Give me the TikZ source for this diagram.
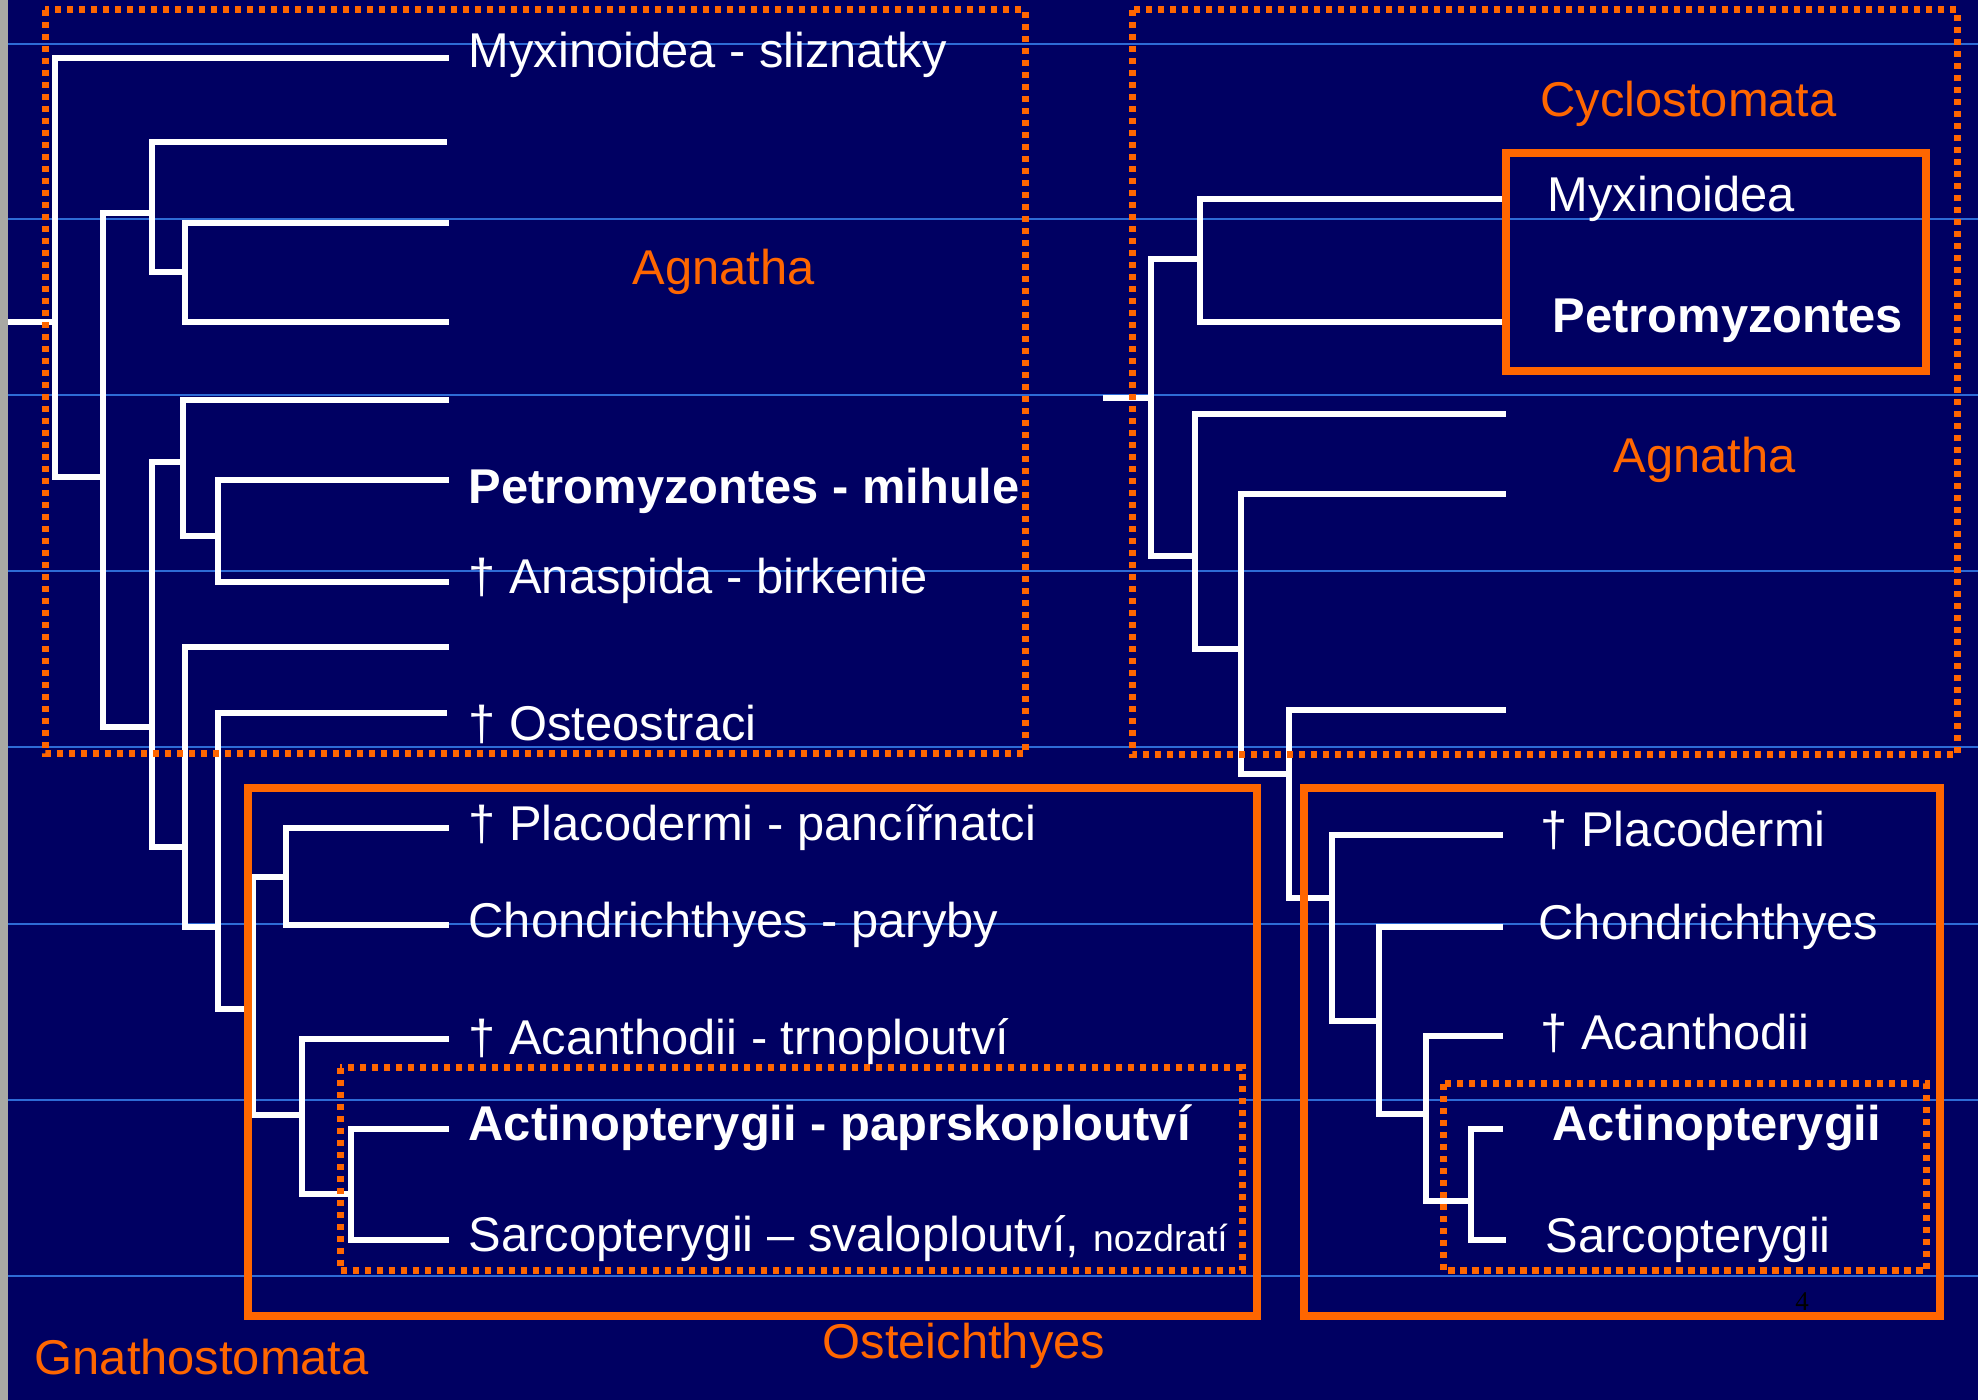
\documentclass[tikz,border=0pt]{standalone}
\usepackage{fontspec}
\usepackage{xcolor}
\setmainfont{Liberation Sans}
\newfontfamily\pagefont{Liberation Serif}
\definecolor{slidebg}{HTML}{000062}
\definecolor{slideorange}{HTML}{FF6600}
\definecolor{gridblue}{HTML}{2E6BD6}
\definecolor{stripgray}{HTML}{A8A8A4}
\newcommand{\taxonfont}{\fontsize{13.9}{16}\selectfont}

\begin{document}
\begin{tikzpicture}[x=0.1mm, y=-0.1mm,
  branch/.style={draw=white, line width=0.65mm},
  groupbox/.style={draw=slideorange, line width=0.8mm},
  groupdots/.style={draw=slideorange, line width=0.7mm, dash pattern=on 0.65mm off 0.55mm},
  gridline/.style={draw=gridblue, line width=0.12mm},
  taxon/.style={anchor=base west, inner sep=0pt, text=white, font=\taxonfont},
  taxonbold/.style={taxon, font=\taxonfont\bfseries},
  clade/.style={anchor=base west, inner sep=0pt, text=slideorange, font=\taxonfont}]
\useasboundingbox (0,0) rectangle (1978,1400);
\fill[slidebg] (0,0) rectangle (1978,1400);
\fill[stripgray] (0,0) rectangle (8,1400);
\foreach \y in {44,219,395,571,747,924,1100,1276}
  \draw[gridline] (8,\y) -- (1978,\y);

\coordinate (rootL) at (8,322);
\coordinate (nL0) at (55,322);
\coordinate (nLa) at (103,477);
\coordinate (nLb) at (152,213);
\coordinate (nLc) at (185,272);
\coordinate (nLd) at (152,727);
\coordinate (nLe) at (183,462);
\coordinate (nLf) at (218,536);
\coordinate (nLg) at (185,847);
\coordinate (nLh) at (218,927);
\coordinate (nLi) at (253,1009);
\coordinate (nLj) at (286,877);
\coordinate (nLk) at (302,1115);
\coordinate (nLl) at (351,1194);
\coordinate (lL1) at (449,58);
\coordinate (lL2) at (447,142);
\coordinate (lL3) at (449,223);
\coordinate (lL4) at (449,322);
\coordinate (lL5) at (449,400);
\coordinate (lL6) at (449,480);
\coordinate (lL7) at (449,582);
\coordinate (lL8) at (449,647);
\coordinate (lL9) at (447,713);
\coordinate (lL10) at (449,828);
\coordinate (lL11) at (449,925);
\coordinate (lL12) at (449,1039);
\coordinate (lL13) at (449,1129);
\coordinate (lL14) at (449,1240);

\draw[branch] (rootL) -- (nL0);
\draw[branch] (nL0) |- (lL1) (nL0) |- (nLa);
\draw[branch] (nLa) |- (nLb) (nLa) |- (nLd);
\draw[branch] (nLb) |- (lL2) (nLb) |- (nLc);
\draw[branch] (nLc) |- (lL3) (nLc) |- (lL4);
\draw[branch] (nLd) |- (nLe) (nLd) |- (nLg);
\draw[branch] (nLe) |- (lL5) (nLe) |- (nLf);
\draw[branch] (nLf) |- (lL6) (nLf) |- (lL7);
\draw[branch] (nLg) |- (lL8) (nLg) |- (nLh);
\draw[branch] (nLh) |- (lL9) (nLh) |- (nLi);
\draw[branch] (nLi) |- (nLj) (nLi) |- (nLk);
\draw[branch] (nLj) |- (lL10) (nLj) |- (lL11);
\draw[branch] (nLk) |- (lL12) (nLk) |- (nLl);
\draw[branch] (nLl) |- (lL13) (nLl) |- (lL14);

\coordinate (rootR) at (1103,398);
\coordinate (nR0) at (1151,398);
\coordinate (nRcy) at (1200,259);
\coordinate (nRa) at (1195,556);
\coordinate (nRb) at (1241,649);
\coordinate (nRc) at (1289,774);
\coordinate (nRd) at (1332,898);
\coordinate (nRe) at (1379,1021);
\coordinate (nRf) at (1426,1114);
\coordinate (nRg) at (1471,1201);
\coordinate (lR1) at (1503,199);
\coordinate (lR2) at (1503,322);
\coordinate (lR3) at (1506,414);
\coordinate (lR4) at (1506,494);
\coordinate (lR5) at (1506,710);
\coordinate (lR6) at (1503,835);
\coordinate (lR7) at (1503,927);
\coordinate (lR8) at (1503,1036);
\coordinate (lR9) at (1503,1129);
\coordinate (lR10) at (1506,1240);

\draw[branch] (rootR) -- (nR0);
\draw[branch] (nR0) |- (nRcy) (nR0) |- (nRa);
\draw[branch] (nRcy) |- (lR1) (nRcy) |- (lR2);
\draw[branch] (nRa) |- (lR3) (nRa) |- (nRb);
\draw[branch] (nRb) |- (lR4) (nRb) |- (nRc);
\draw[branch] (nRc) |- (lR5) (nRc) |- (nRd);
\draw[branch] (nRd) |- (lR6) (nRd) |- (nRe);
\draw[branch] (nRe) |- (lR7) (nRe) |- (nRf);
\draw[branch] (nRf) |- (lR8) (nRf) |- (nRg);
\draw[branch] (nRg) |- (lR9) (nRg) |- (lR10);

\draw[groupdots] (45,10) rectangle (1025,754);
\draw[groupdots] (1132,10) rectangle (1957,755);
\draw[groupbox] (248,788) rectangle (1257,1316);
\draw[groupbox] (1304,788) rectangle (1940,1316);
\draw[groupdots] (340,1068) rectangle (1242,1271);
\draw[groupdots] (1443,1084) rectangle (1926,1271);
\draw[groupbox] (1506,153) rectangle (1926,371);

\node[taxon] (tMyxL) at (468,68) {Myxinoidea - sliznatky};
\node[taxonbold] (tPetL) at (468,504) {Petromyzontes - mihule};
\node[taxon] (tAnaL) at (468,594) {† Anaspida - birkenie};
\node[taxon] (tOstL) at (468,741) {† Osteostraci};
\node[taxon] (tPlaL) at (468,841) {† Placodermi - pancířnatci};
\node[taxon] (tChoL) at (468,938) {Chondrichthyes - paryby};
\node[taxon] (tAcaL) at (468,1055) {† Acanthodii - trnoploutví};
\node[taxonbold] (tActL) at (468,1141) {Actinopterygii - paprskoploutví};
\node[taxon] (tSarL) at (468,1252) {Sarcopterygii – svaloploutví, {\fontsize{10.6}{12}\selectfont nozdratí}};

\node[taxon] (tMyxR) at (1547,212) {Myxinoidea};
\node[taxonbold] (tPetR) at (1552,333) {Petromyzontes};
\node[taxon] (tPlaR) at (1540,847) {† Placodermi};
\node[taxon] (tChoR) at (1538,940) {Chondrichthyes};
\node[taxon] (tAcaR) at (1540,1050) {† Acanthodii};
\node[taxonbold] (tActR) at (1552,1141) {Actinopterygii};
\node[taxon] (tSarR) at (1545,1253) {Sarcopterygii};

\node[clade] (cAgnL) at (632,285) {Agnatha};
\node[clade] (cCyc) at (1540,117) {Cyclostomata};
\node[clade] (cAgnR) at (1613,473) {Agnatha};
\node[clade] (cGna) at (34,1375) {Gnathostomata};
\node[clade] (cOst) at (822,1359) {Osteichthyes};

\node[inner sep=0pt, text=black, font=\pagefont\fontsize{7.7}{9}\selectfont] (pnum) at (1802,1302) {4};
\end{tikzpicture}
\end{document}
